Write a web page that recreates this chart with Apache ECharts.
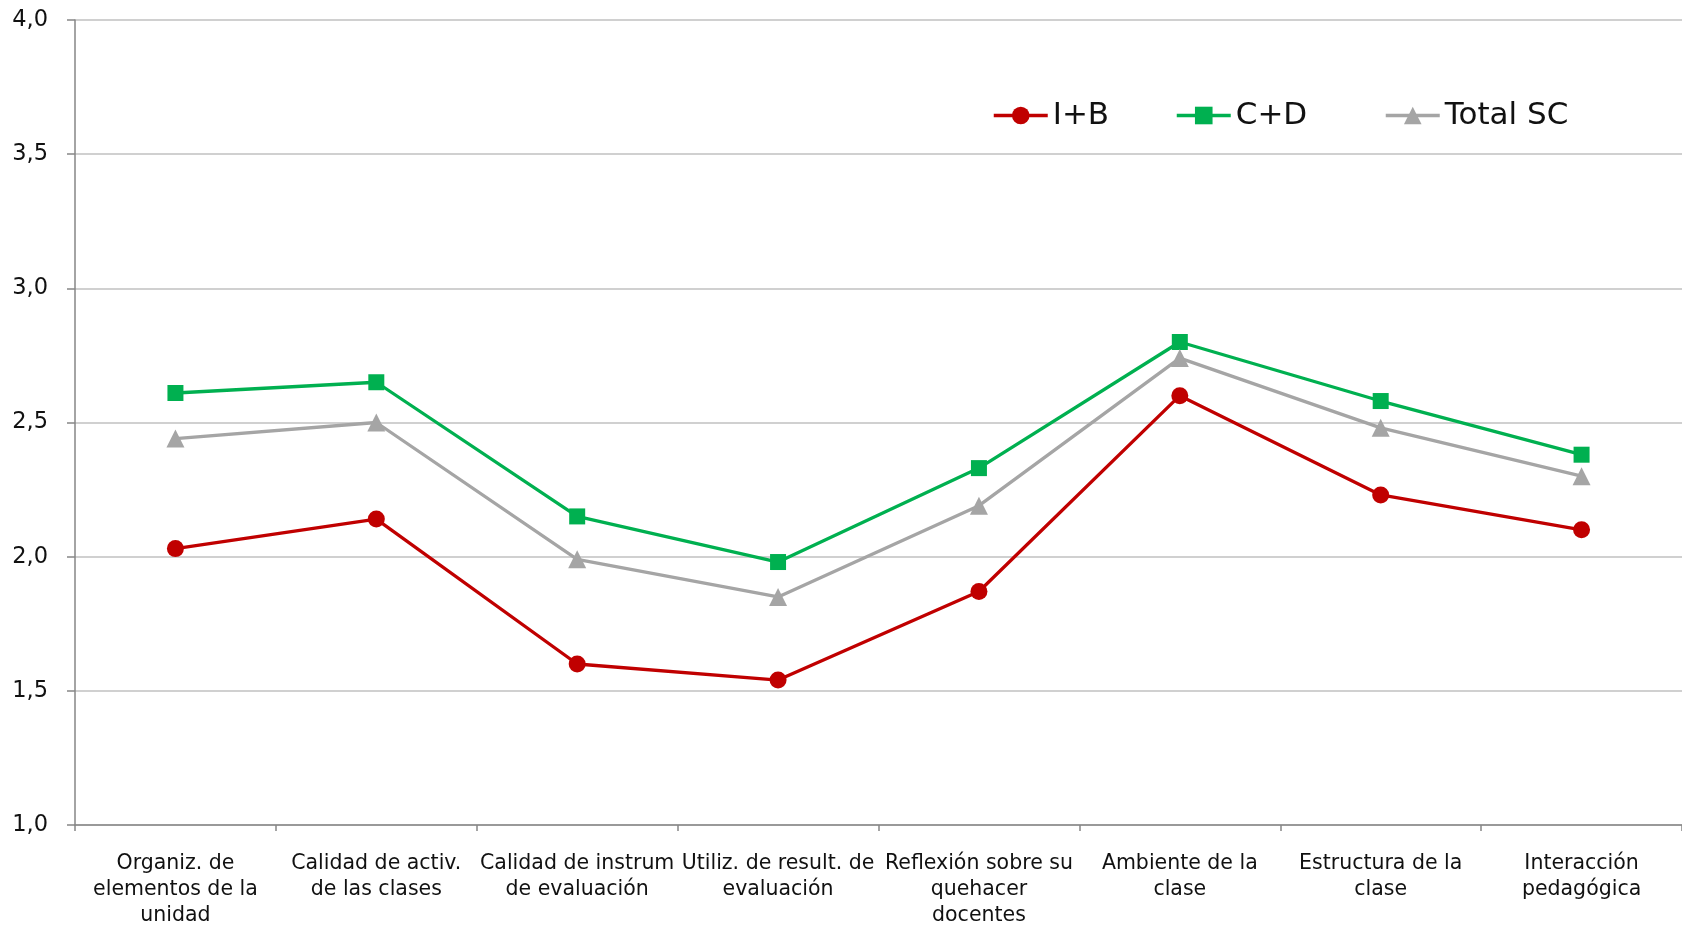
<!DOCTYPE html>
<html>
<head>
<meta charset="utf-8">
<script src="https://cdn.jsdelivr.net/npm/echarts@6/dist/echarts.min.js"></script>
<style>
html,body{margin:0;padding:0;background:#fff;}
#chart{width:1682px;height:926px;}
</style>
</head>
<body>
<div id="chart"></div>
<script>
const categories = [
  "Organiz. de\nelementos de la\nunidad",
  "Calidad de activ.\nde las clases",
  "Calidad de instrum\nde evaluación",
  "Utiliz. de result. de\nevaluación",
  "Reflexión sobre su\nquehacer\ndocentes",
  "Ambiente de la\nclase",
  "Estructura de la\nclase",
  "Interacción\npedagógica"
];
const seriesNames = ["I+B", "C+D", "Total SC"];
const valuesIB = [2.03, 2.14, 1.60, 1.54, 1.87, 2.60, 2.23, 2.10];
const valuesCD = [2.61, 2.65, 2.15, 1.98, 2.33, 2.80, 2.58, 2.38];
const valuesTotal = [2.44, 2.50, 1.99, 1.85, 2.19, 2.74, 2.48, 2.30];
const yTicks = { min: 1, max: 4, interval: 0.5 };

const FONT = "DejaVu Sans";
const TEXT = "#111111";

const chart = echarts.init(document.getElementById('chart'), null, {renderer: 'canvas'});

function legendAt(name, left) {
  return {
    data: [name],
    left: left,
    top: 100,
    padding: 0,
    itemWidth: 54,
    itemHeight: 22,
    itemGap: 6,
    lineStyle: { width: 3.5 },
    textStyle: { fontFamily: FONT, fontSize: 31, color: TEXT },
    selectedMode: false
  };
}

chart.setOption({
  animation: false,
  backgroundColor: '#ffffff',
  grid: { left: 75, right: 0, top: 20, bottom: 101, containLabel: false, outerBoundsMode: 'none' },
  legend: [
    legendAt(seriesNames[0], 992),
    legendAt(seriesNames[1], 1175),
    legendAt(seriesNames[2], 1384)
  ],
  xAxis: {
    type: 'category',
    data: categories,
    boundaryGap: true,
    axisLine: { lineStyle: { color: '#868686', width: 1.5 } },
    axisTick: { show: true, length: 6, alignWithLabel: false, lineStyle: { color: '#868686', width: 1.5 } },
    axisLabel: {
      interval: 0,
      margin: 26,
      fontFamily: FONT,
      fontSize: 20.5,
      lineHeight: 26,
      color: TEXT,
      align: 'center'
    },
    splitLine: { show: false }
  },
  yAxis: {
    type: 'value',
    min: yTicks.min,
    max: yTicks.max,
    interval: yTicks.interval,
    axisLine: { show: true, lineStyle: { color: '#868686', width: 1.5 } },
    axisTick: { show: true, length: 8, lineStyle: { color: '#868686', width: 1.5 } },
    axisLabel: {
      margin: 27,
      fontFamily: FONT,
      fontSize: 22.5,
      color: TEXT,
      formatter: v => v.toFixed(1).replace('.', ',')
    },
    splitLine: { show: true, lineStyle: { color: '#c0c0c0', width: 1.5 } }
  },
  series: [
    {
      name: seriesNames[0], type: 'line', data: valuesIB,
      symbol: 'circle', symbolSize: 17,
      lineStyle: { color: '#C00000', width: 3.3 },
      itemStyle: { color: '#C00000' },
      z: 3
    },
    {
      name: seriesNames[1], type: 'line', data: valuesCD,
      symbol: 'rect', symbolSize: 16,
      lineStyle: { color: '#00B050', width: 3.3 },
      itemStyle: { color: '#00B050' },
      z: 4
    },
    {
      name: seriesNames[2], type: 'line', data: valuesTotal,
      symbol: 'triangle', symbolSize: 18,
      lineStyle: { color: '#A5A5A5', width: 3.3 },
      itemStyle: { color: '#A5A5A5' },
      z: 5
    }
  ]
});
</script>
</body>
</html>
